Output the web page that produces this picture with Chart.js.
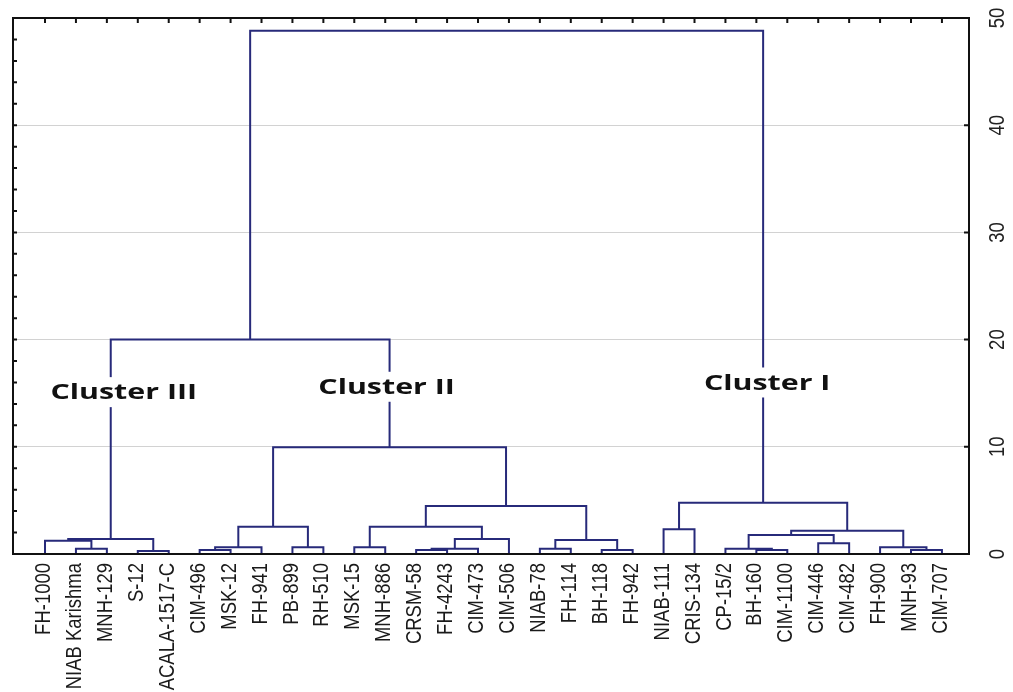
<!DOCTYPE html>
<html>
<head>
<meta charset="utf-8">
<script src="https://cdn.jsdelivr.net/npm/chart.js@4.4.0/dist/chart.umd.min.js"></script>
<style>
  html, body { margin: 0; padding: 0; background: #fff; }
  #wrap { width: 1013px; height: 692px; }
</style>
</head>
<body>
<div id="wrap"><canvas id="dendro"></canvas></div>
<script>
// Leaves in dendrogram order (left to right)
const leaves = [
  'FH-1000', 'NIAB Karishma', 'MNH-129', 'S-12', 'ACALA-1517-C',
  'CIM-496', 'MSK-12', 'FH-941', 'PB-899', 'RH-510',
  'MSK-15', 'MNH-886', 'CRSM-58', 'FH-4243', 'CIM-473',
  'CIM-506', 'NIAB-78', 'FH-114', 'BH-118', 'FH-942',
  'NIAB-111', 'CRIS-134', 'CP-15/2', 'BH-160', 'CIM-1100',
  'CIM-446', 'CIM-482', 'FH-900', 'MNH-93', 'CIM-707'
];

// Linkage: merge k creates node 30 + k from mergeLeft[k] and mergeRight[k]
const mergeLeft   = [1, 0, 3, 31, 5, 34, 8, 35, 10, 12, 39, 40, 38, 16, 18, 43, 42, 37, 33, 20, 23, 22, 25, 51, 28, 27, 53, 49, 48];
const mergeRight  = [2, 30, 4, 32, 6, 7, 9, 36, 11, 13, 14, 15, 41, 17, 19, 44, 45, 46, 47, 21, 24, 50, 26, 52, 29, 54, 55, 56, 57];
const mergeHeight = [0.5, 1.24, 0.28, 1.4, 0.37, 0.62, 0.62, 2.55, 0.62, 0.37, 0.5, 1.4, 2.55, 0.5, 0.37, 1.3, 4.47, 9.95, 20.0,
                     2.3, 0.37, 0.5, 1.0, 1.77, 0.37, 0.62, 2.17, 4.77, 48.8];

const clusterNames = ['Cluster III', 'Cluster II', 'Cluster I'];
const clusterNodes = [33, 47, 57];
const yTicks = [0, 10, 20, 30, 40, 50];

const lineColor = '#272a7a';
const labelFont = "22px 'Liberation Sans', Arial, sans-serif";
const narrow = 0.84; // squeeze along the text direction, like Arial Narrow

// Build the branch segments from the linkage
const nodeX = leaves.map((_, i) => i);
const nodeH = leaves.map(() => 0);
const branches = [];
mergeLeft.forEach((a, k) => {
  const b = mergeRight[k];
  const h = mergeHeight[k];
  branches.push([
    { x: nodeX[a], y: nodeH[a] },
    { x: nodeX[a], y: h },
    { x: nodeX[b], y: h },
    { x: nodeX[b], y: nodeH[b] }
  ]);
  nodeX.push((nodeX[a] + nodeX[b]) / 2);
  nodeH.push(h);
});

// rotated, condensed text (reads bottom to top)
function drawUpText(ctx, text, x, y, align) {
  ctx.save();
  ctx.translate(x, y);
  ctx.rotate(-Math.PI / 2);
  ctx.scale(narrow, 1);
  ctx.textAlign = align;
  ctx.textBaseline = 'middle';
  ctx.fillText(text, 0, 0);
  ctx.restore();
}

// Frame, inward ticks, axis labels and cluster captions
const decorPlugin = {
  id: 'decor',
  afterDatasetsDraw(chart) {
    const { ctx, chartArea: a, scales } = chart;
    const xs = scales.x, ys = scales.y;
    ctx.save();
    ctx.strokeStyle = '#111';
    ctx.lineWidth = 2;
    ctx.strokeRect(a.left, a.top, a.right - a.left, a.bottom - a.top);

    ctx.beginPath();
    leaves.forEach((_, i) => {
      const px = xs.getPixelForValue(i);
      ctx.moveTo(px, a.top);
      ctx.lineTo(px, a.top + 5);
    });
    for (let v = 2; v < 50; v += 2) {
      const py = ys.getPixelForValue(v);
      ctx.moveTo(a.left, py);
      ctx.lineTo(a.left + 4, py);
    }
    yTicks.slice(1, -1).forEach(v => {
      const py = ys.getPixelForValue(v);
      ctx.moveTo(a.right, py);
      ctx.lineTo(a.right - 5, py);
    });
    ctx.stroke();

    // leaf names under the axis
    ctx.font = labelFont;
    ctx.fillStyle = '#1a1a1a';
    leaves.forEach((name, i) => {
      drawUpText(ctx, name, xs.getPixelForValue(i) - 1, a.bottom + 9, 'right');
    });

    // right axis labels
    ctx.fillStyle = '#222';
    yTicks.forEach(v => {
      drawUpText(ctx, String(v), a.right + 29, ys.getPixelForValue(v), 'center');
    });

    // cluster captions with white backing
    const dx = [13, -3, 4];
    const yv = [15.1, 15.6, 16.0];
    const wide = 1.38;
    ctx.font = "bold 22px 'Open Sans', sans-serif";
    ctx.textAlign = 'center';
    ctx.textBaseline = 'middle';
    clusterNames.forEach((name, i) => {
      const cx = xs.getPixelForValue(nodeX[clusterNodes[i]]) + dx[i];
      const cy = ys.getPixelForValue(yv[i]);
      const w = ctx.measureText(name).width * wide;
      ctx.fillStyle = '#fff';
      ctx.fillRect(cx - w / 2 - 4, cy - 15, w + 8, 30);
      ctx.save();
      ctx.translate(cx, cy);
      ctx.scale(wide, 1);
      ctx.fillStyle = '#111';
      ctx.fillText(name, 0, 1);
      ctx.restore();
    });
    ctx.restore();
  }
};

const chart = new Chart(document.getElementById('dendro'), {
  type: 'scatter',
  data: {
    datasets: branches.map(seg => ({
      data: seg,
      showLine: true,
      borderColor: lineColor,
      borderWidth: 2,
      pointRadius: 0,
      tension: 0,
      clip: false
    }))
  },
  options: {
    responsive: true,
    maintainAspectRatio: false,
    animation: false,
    layout: { padding: { left: 13, top: 18, right: 0, bottom: 0 } },
    plugins: {
      legend: { display: false },
      tooltip: { enabled: false }
    },
    scales: {
      x: {
        type: 'linear',
        min: -1.035,
        max: 29.875,
        afterBuildTicks: s => { s.ticks = leaves.map((_, i) => ({ value: i })); },
        afterFit: s => { s.height = 138; },
        grid: { display: false },
        border: { display: false },
        ticks: { display: false }
      },
      y: {
        position: 'right',
        min: 0,
        max: 50,
        afterBuildTicks: s => { s.ticks = yTicks.map(v => ({ value: v })); },
        afterFit: s => { s.width = 44; },
        grid: { color: '#d2d2d2', lineWidth: 1, drawTicks: false },
        border: { display: false },
        ticks: { display: false }
      }
    }
  },
  plugins: [decorPlugin]
});
</script>
</body>
</html>
